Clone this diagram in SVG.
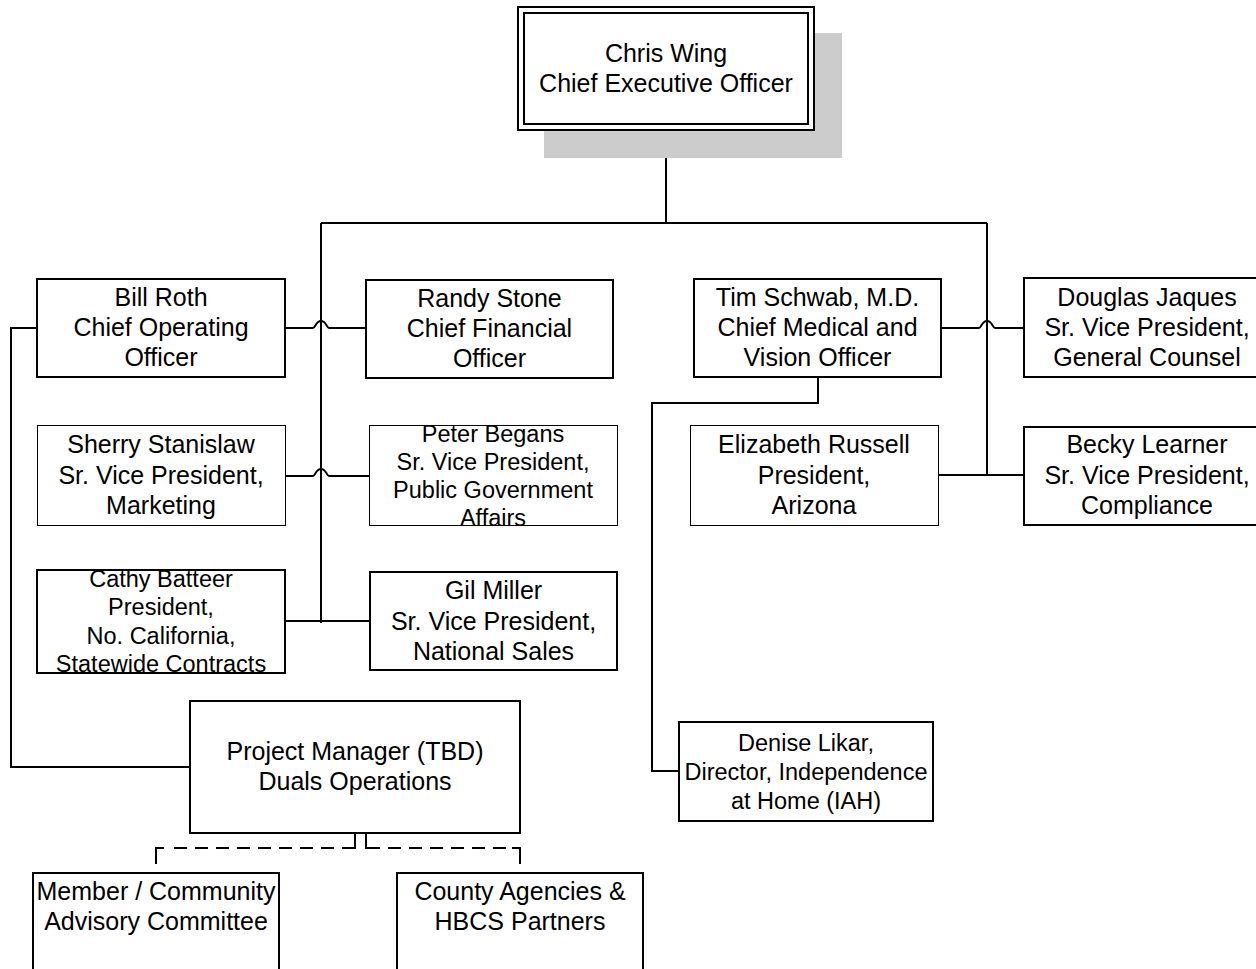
<svg xmlns="http://www.w3.org/2000/svg" width="1256" height="969" viewBox="0 0 1256 969">
<style>
.box{fill:#fff;stroke:#000;stroke-width:2}
.thin{fill:#fff;stroke:#000;stroke-width:1}
.ln{fill:none;stroke:#000;stroke-width:2}
.dash{fill:none;stroke:#000;stroke-width:2;stroke-dasharray:13 8}
text{font-family:"Liberation Sans",Arial,sans-serif;font-size:25px;fill:#000;text-anchor:middle}
.sm{font-size:23.5px}
</style>
<rect width="1256" height="969" fill="#fff"/>
<g id="connectors">
<path class="ln" d="M666,130 V223"/>
<path class="ln" d="M321,223 H987"/>
<path class="ln" d="M321,223 V623"/>
<path class="ln" d="M987,223 V475"/>
<path class="ln" d="M285,328 H313 C315,328 316,321 321,321 C326,321 327,328 329,328 H366"/>
<path class="ln" d="M285,476 H313 C315,476 316,469 321,469 C326,469 327,476 329,476 H369"/>
<path class="ln" d="M285,621 H370"/>
<path class="ln" d="M941,328 H979 C981,328 982,321 987,321 C992,321 993,328 995,328 H1024"/>
<path class="ln" d="M938,475 H1024"/>
<path class="ln" d="M37,328 H11 V767 H190"/>
<path class="ln" d="M818,377 V403 H652 V771 H679"/>
<path class="ln" d="M355,833 V848 H342"/>
<path class="dash" d="M334,848 H174"/>
<path class="ln" d="M164,848 H156 V864"/>
<path class="ln" d="M366,833 V848 H380"/>
<path class="dash" d="M388,848 H506"/>
<path class="ln" d="M512,848 H520 V864"/>
</g>
<g id="ceo">
<rect x="544" y="33" width="298" height="125" fill="#cccccc"/>
<rect class="box" x="518" y="7" width="296" height="123"/>
<rect class="box" x="524" y="13" width="284" height="111"/>
<text x="666" y="62">Chris Wing</text>
<text x="666" y="92">Chief Executive Officer</text>
</g>
<g id="bill-roth">
<rect class="box" x="37" y="279" width="248" height="98"/>
<text x="161" y="306">Bill Roth</text>
<text x="161" y="336">Chief Operating</text>
<text x="161" y="366">Officer</text>
</g>
<g id="randy-stone">
<rect class="box" x="366" y="280" width="247" height="98"/>
<text x="489.5" y="307">Randy Stone</text>
<text x="489.5" y="337">Chief Financial</text>
<text x="489.5" y="367">Officer</text>
</g>
<g id="sherry-stanislaw">
<rect class="thin" x="37.5" y="425.5" width="248" height="100"/>
<text x="161" y="453">Sherry Stanislaw</text>
<text x="161" y="484">Sr. Vice President,</text>
<text x="161" y="514">Marketing</text>
</g>
<g id="peter-begans">
<rect class="thin" x="369.5" y="425.5" width="248" height="100"/>
<text class="sm" x="493" y="441.5">Peter Begans</text>
<text class="sm" x="493" y="469.5">Sr. Vice President,</text>
<text class="sm" x="493" y="497.5">Public Government</text>
<text class="sm" x="493" y="525.5">Affairs</text>
</g>
<g id="cathy-batteer">
<rect class="box" x="37" y="570" width="248" height="103"/>
<text class="sm" x="161" y="586.5">Cathy Batteer</text>
<text class="sm" x="161" y="614.5">President,</text>
<text class="sm" x="161" y="643.5">No. California,</text>
<text class="sm" x="161" y="671.5">Statewide Contracts</text>
</g>
<g id="gil-miller">
<rect class="box" x="370" y="572" width="247" height="98"/>
<text x="493.5" y="599">Gil Miller</text>
<text x="493.5" y="630">Sr. Vice President,</text>
<text x="493.5" y="660">National Sales</text>
</g>
<g id="tim-schwab">
<rect class="box" x="694" y="279" width="247" height="98"/>
<text x="817.5" y="306">Tim Schwab, M.D.</text>
<text x="817.5" y="336">Chief Medical and</text>
<text x="817.5" y="366">Vision Officer</text>
</g>
<g id="douglas-jaques">
<rect class="box" x="1024" y="278" width="246" height="99"/>
<text x="1147" y="306">Douglas Jaques</text>
<text x="1147" y="336">Sr. Vice President,</text>
<text x="1147" y="366">General Counsel</text>
</g>
<g id="elizabeth-russell">
<rect class="thin" x="690.5" y="425.5" width="248" height="100"/>
<text x="814" y="453">Elizabeth Russell</text>
<text x="814" y="484">President,</text>
<text x="814" y="514">Arizona</text>
</g>
<g id="becky-learner">
<rect class="box" x="1024" y="427" width="246" height="98"/>
<text x="1147" y="453">Becky Learner</text>
<text x="1147" y="484">Sr. Vice President,</text>
<text x="1147" y="514">Compliance</text>
</g>
<g id="project-manager">
<rect class="box" x="190" y="701" width="330" height="132"/>
<text x="355" y="760">Project Manager (TBD)</text>
<text x="355" y="790">Duals Operations</text>
</g>
<g id="denise-likar">
<rect class="box" x="679" y="722" width="254" height="99"/>
<text class="sm" x="806" y="750.5">Denise Likar,</text>
<text class="sm" x="806" y="779.5">Director, Independence</text>
<text class="sm" x="806" y="808.5">at Home (IAH)</text>
</g>
<g id="member-community">
<rect class="box" x="33" y="873" width="246" height="130"/>
<text x="156" y="900">Member / Community</text>
<text x="156" y="930">Advisory Committee</text>
</g>
<g id="county-agencies">
<rect class="box" x="397" y="873" width="246" height="130"/>
<text x="520" y="900">County Agencies &amp;</text>
<text x="520" y="930">HBCS Partners</text>
</g>
</svg>
